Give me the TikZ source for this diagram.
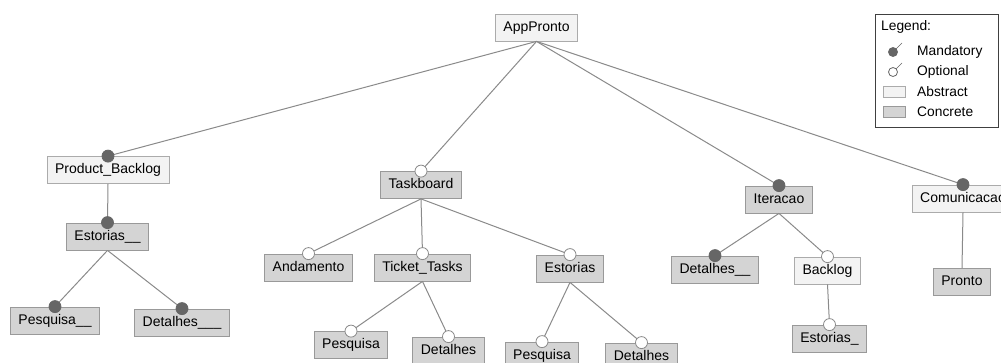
\documentclass[tikz,border=0pt]{standalone}
\usepackage{fontspec}
\setmainfont{Liberation Sans}
\definecolor{edgegray}{HTML}{8A8A8A}
\definecolor{dotgray}{HTML}{666666}
\definecolor{absfill}{HTML}{F3F3F3}
\definecolor{absborder}{HTML}{ABABAB}
\definecolor{confill}{HTML}{D4D4D4}
\definecolor{conborder}{HTML}{999999}

\begin{document}
\begin{tikzpicture}[
      x = 1pt, y = -1pt,
      font = \fontsize{14}{16}\selectfont,
      feature/.style={
        line width = 0.8pt,
        text height = 10pt,
        text depth = 3pt,
        inner xsep = 8pt,
        inner ysep = 7pt,
      },
      abstract/.style={
        feature,
        draw = absborder,
        fill = absfill,
      },
      concrete/.style={
        feature,
        draw = conborder,
        fill = confill,
      },
      link/.style={
        draw = edgegray,
        line width = 1pt,
      },
      mandatory/.style={
        draw = dotgray,
        fill = dotgray,
        line width = 0.8pt,
      },
      optional/.style={
        draw = edgegray,
        fill = white,
        line width = 0.8pt,
      },
      legtext/.style={
        anchor = west,
        inner sep = 0pt,
        font = \fontsize{13.8}{15}\selectfont,
      },
    ]
    \useasboundingbox (0,0) rectangle (1001,362);
    \clip (0,0) rectangle (1001,362);

    % features
    \node[abstract] (app) at (536.5,27.5) {AppPronto};
    \node[abstract] (pbacklog) at (108,170) {Product\_Backlog};
    \node[concrete] (estorias1) at (107.5,236.5) {Estorias\_\_};
    \node[concrete] (pesq1) at (55,320.5) {Pesquisa\_\_};
    \node[concrete] (det1) at (182,322.5) {Detalhes\_\_\_};
    \node[concrete] (taskboard) at (421,185) {Taskboard};
    \node[concrete] (andamento) at (308.5,267.5) {Andamento};
    \node[concrete] (tickets) at (422.5,267.5) {Ticket\_Tasks};
    \node[concrete] (estorias2) at (570,268.5) {Estorias};
    \node[concrete] (pesq2) at (351,345) {Pesquisa};
    \node[concrete] (det2) at (448.5,350.5) {Detalhes};
    \node[concrete] (pesq3) at (542,355.5) {Pesquisa};
    \node[concrete] (det3) at (641.5,356.5) {Detalhes};
    \node[concrete] (iteracao) at (779,199.5) {Iteracao};
    \node[concrete] (det4) at (715,269.5) {Detalhes\_\_};
    \node[abstract] (backlog) at (827.5,270.5) {Backlog};
    \node[concrete] (estorias3) at (829.5,338.5) {Estorias\_};
    \node[abstract] (comunic) at (963,198.5) {Comunicacao};
    \node[concrete] (pronto) at (962,282) {Pronto};

    % connectors
    \draw[link] (app.south) -- (pbacklog.north);
    \draw[link] (app.south) -- (taskboard.north);
    \draw[link] (app.south) -- (iteracao.north);
    \draw[link] (app.south) -- (comunic.north);
    \draw[link] (pbacklog.south) -- (estorias1.north);
    \draw[link] (estorias1.south) -- (pesq1.north);
    \draw[link] (estorias1.south) -- (det1.north);
    \draw[link] (taskboard.south) -- (andamento.north);
    \draw[link] (taskboard.south) -- (tickets.north);
    \draw[link] (taskboard.south) -- (estorias2.north);
    \draw[link] (tickets.south) -- (pesq2.north);
    \draw[link] (tickets.south) -- (det2.north);
    \draw[link] (estorias2.south) -- (pesq3.north);
    \draw[link] (estorias2.south) -- (det3.north);
    \draw[link] (iteracao.south) -- (det4.north);
    \draw[link] (iteracao.south) -- (backlog.north);
    \draw[link] (backlog.south) -- (estorias3.north);
    \draw[link] (comunic.south) -- (pronto.north);

    % mandatory / optional marks
    \foreach \f in {pbacklog, estorias1, pesq1, det1, iteracao, det4, comunic}
      \filldraw[mandatory] (\f.north) circle[radius=6];
    \foreach \f in {taskboard, andamento, tickets, estorias2, pesq2, det2,
                    pesq3, det3, backlog, estorias3}
      \filldraw[optional] (\f.north) circle[radius=6];

    % legend
    \draw[line width = 0.8pt, draw = black!75, fill = white]
      (875,14) rectangle (998,127);
    \node[legtext] (leg-title) at (881,27) {Legend:};
    \draw[line width = 0.6pt, dotgray] (893,52) -- (902,43);
    \filldraw[mandatory] (893,52) circle[radius=4.5];
    \node[legtext] (leg-mand) at (917,52) {Mandatory};
    \draw[line width = 0.6pt, dotgray] (893,72) -- (902,63);
    \filldraw[optional, draw = dotgray] (893,72) circle[radius=4.5];
    \node[legtext] (leg-opt) at (917,72) {Optional};
    \filldraw[line width = 0.6pt, draw = absborder, fill = absfill]
      (883,86) rectangle (905,97);
    \node[legtext] (leg-abs) at (917,91.5) {Abstract};
    \filldraw[line width = 0.6pt, draw = conborder, fill = confill]
      (883,106) rectangle (905,117);
    \node[legtext] (leg-con) at (917,111.5) {Concrete};
  \end{tikzpicture}
\end{document}
